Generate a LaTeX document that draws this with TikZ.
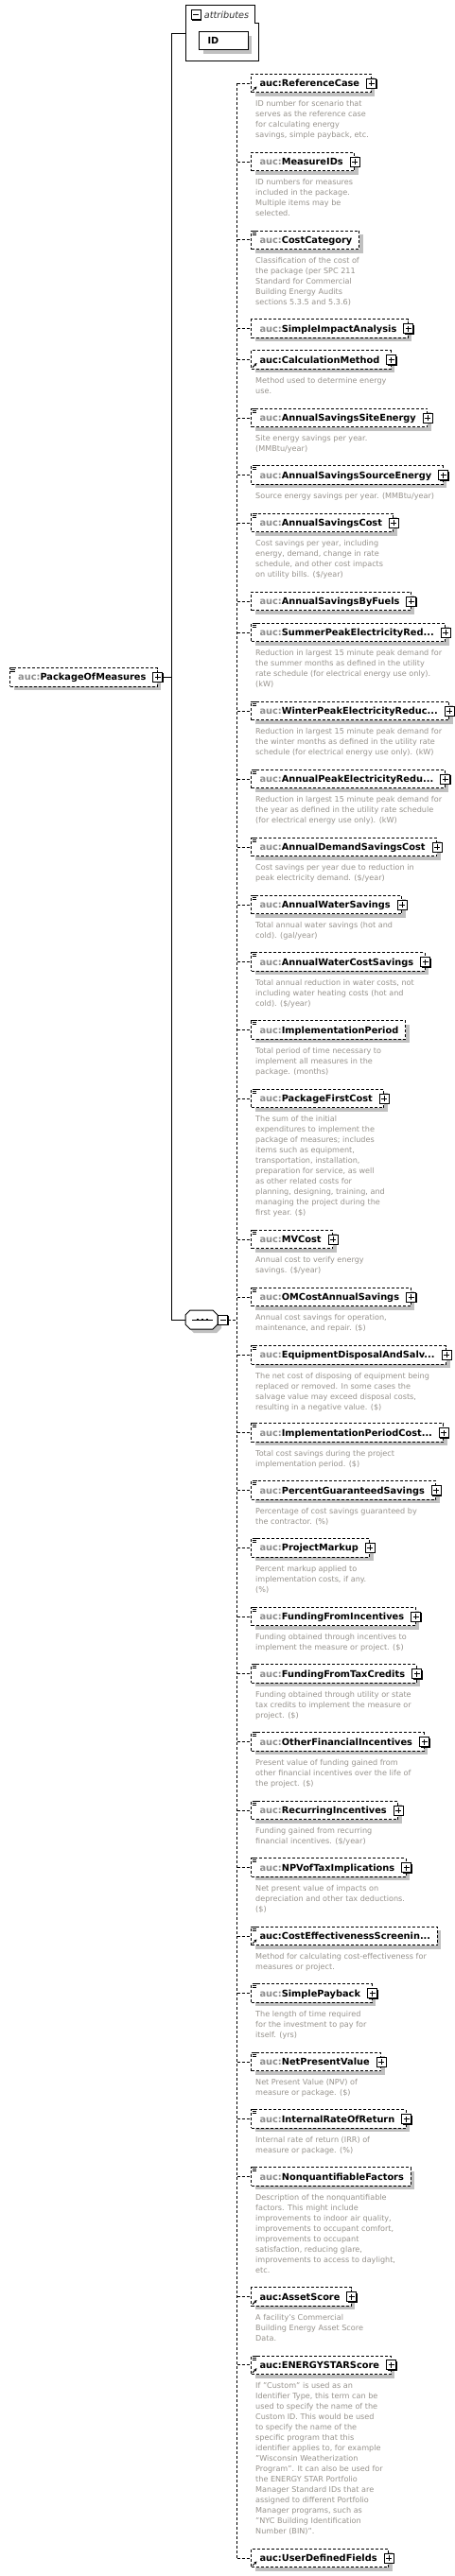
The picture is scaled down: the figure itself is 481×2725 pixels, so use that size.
\documentclass[tikz,border=0pt]{standalone}
\usepackage{fontspec}
\setmainfont{DejaVu Sans}
\usetikzlibrary{shadows,arrows.meta}
\definecolor{shadowgray}{RGB}{192,192,192}
\definecolor{pfxgray}{RGB}{140,140,140}
\definecolor{descgray}{RGB}{150,146,140}
\tikzset{
  elbox/.style={draw, dash pattern=on 3pt off 2pt, line width=1pt, fill=white,
    inner xsep=0pt, inner ysep=0pt, minimum height=19.6pt, text height=7.2pt, text depth=0pt,
    font=\fontsize{9.8}{11}\selectfont\bfseries,
    drop shadow={shadow xshift=4pt, shadow yshift=-4pt, fill=shadowgray, opacity=1}},
  solidbox/.style={draw, line width=1pt, fill=white, inner xsep=0pt, inner ysep=0pt,
    minimum height=19pt, text height=7.2pt, text depth=0pt,
    font=\fontsize{9.8}{11}\selectfont\bfseries,
    drop shadow={shadow xshift=4pt, shadow yshift=-4pt, fill=shadowgray, opacity=1}},
  plusbox/.style={draw, line width=1pt, fill=white, minimum size=10pt, inner sep=0pt,
    drop shadow={shadow xshift=1pt, shadow yshift=-1pt, fill=black, opacity=1}},
  dline/.style={line width=1pt, dash pattern=on 3pt off 2pt},
  sline/.style={line width=1pt},
  desc/.style={font=\fontsize{8.1}{11}\selectfont, text=descgray, align=left, inner sep=0pt},
}
\newcommand{\XE}[6]{%
  \node[elbox, anchor=north west] (#1) at (265.3,#2) {\hspace*{8.7pt}\textcolor{#3}{auc:}#4\hspace*{\ifnum#5=1 12pt\else 7.3pt\fi}};
  \draw[dline] (#1.west -| vx) -- (#1.west);
  \ifnum#5=1
    \node[plusbox] (#1p) at (#1.east) {};
    \draw[line width=1pt] ([xshift=-3pt]#1p.center) -- ([xshift=3pt]#1p.center) ([yshift=-3pt]#1p.center) -- ([yshift=3pt]#1p.center);
  \fi
  \ifodd#6
    \draw[line width=0.9pt] (266.5,#2+0.5) -- ++(5.5,0) (266.5,#2+2.5) -- ++(4.5,0) (266.5,#2+4.5) -- ++(4.5,0);
  \fi
  \ifnum#6>1
    \draw[line width=1pt,-{Stealth[length=3pt,width=3.2pt]}] (267,#2+18.3) -- (271.5,#2+13.8);
  \fi
}
\newcommand{\XD}[3]{\node[desc, anchor=north west] (#1d) at (270,#2+28.7) {\rule{0pt}{6.3pt}#3};}
\begin{document}
\begin{tikzpicture}[x=1pt,y=-1pt]
\useasboundingbox (0,0) rectangle (481,2725);
\coordinate (vx) at (250.7,0);
\coordinate (rx) at (181.7,0);
% attributes group
\draw[line width=1pt, fill=white] (196.3,5.7) -- (269,5.7) -- (269,24) -- (273.3,24) -- (273.3,64) -- (196.3,64) -- cycle;
\coordinate (attr) at (196.3,35);
\node[plusbox] (attrm) at (207,15.5) {};
\draw[line width=1pt] ([xshift=-3pt]attrm.center) -- ([xshift=3pt]attrm.center);
\node[anchor=base west, inner sep=0pt, font=\fontsize{9.7}{11}\selectfont\itshape, text=black!80] (attrlbl) at (215.7,19) {attributes};
\node[solidbox, anchor=north west] (idnode) at (210.3,33.3) {\hspace*{8.7pt}\makebox[42.7pt][l]{ID}};
% root
\node[elbox, anchor=north west] (root) at (10,706) {\hspace*{8.7pt}\textcolor{pfxgray}{auc:}PackageOfMeasures\hspace*{12pt}};
\node[plusbox] (rootp) at (root.east) {};
\draw[line width=1pt] ([xshift=-3pt]rootp.center) -- ([xshift=3pt]rootp.center) ([yshift=-3pt]rootp.center) -- ([yshift=3pt]rootp.center);
\draw[line width=0.9pt] (11.2,706.5) -- ++(5.5,0) (11.2,708.5) -- ++(4.5,0) (11.2,710.5) -- ++(4.5,0);
% sequence
\fill[shadowgray] (205,1390) -- (229,1390) -- (234,1395) -- (234,1405) -- (229,1410) -- (205,1410) -- (200,1405) -- (200,1395) -- cycle;
\draw[line width=1pt, fill=white] (201,1386) -- (225,1386) -- (230,1391) -- (230,1401) -- (225,1406) -- (201,1406) -- (196,1401) -- (196,1391) -- cycle;
\coordinate (seqL) at (196,1396);
\draw[line width=1pt] (203,1396) -- (225,1396);
\foreach \dx in {209,214,219} \fill (\dx-1.4,1394.6) rectangle (\dx+1.4,1397.4);
\node[plusbox] (seqm) at (235.5,1396.3) {};
\draw[line width=1pt] ([xshift=-3pt]seqm.center) -- ([xshift=3pt]seqm.center);
% root connectors
\draw[sline] (rootp.east) -- (rootp.east -| rx);
\draw[sline] (attr) -- (attr -| rx) -- (seqL -| rx) -- (seqL);
\draw[dline] (seqm.east) -- (seqm.east -| vx);
% elements
\XE{e1}{77.7}{black}{ReferenceCase}{1}{2}
\XD{e1}{77.7}{ID number for scenario that\\serves as the reference case\\for calculating energy\\savings, simple payback, etc.}
\XE{e2}{160.7}{pfxgray}{MeasureIDs}{1}{0}
\XD{e2}{160.7}{ID numbers for measures\\included in the package.\\Multiple items may be\\selected.}
\XE{e3}{243.5}{pfxgray}{CostCategory}{0}{1}
\XD{e3}{243.5}{Classification of the cost of\\the package (per SPC 211\\Standard for Commercial\\Building Energy Audits\\sections 5.3.5 and 5.3.6)}
\XE{e4}{337.3}{pfxgray}{SimpleImpactAnalysis}{1}{0}
\XE{e5}{370.3}{black}{CalculationMethod}{1}{2}
\XD{e5}{370.3}{Method used to determine energy\\use.}
\XE{e6}{431.7}{pfxgray}{AnnualSavingsSiteEnergy}{1}{1}
\XD{e6}{431.7}{Site energy savings per year.\\(MMBtu/year)}
\XE{e7}{492.3}{pfxgray}{AnnualSavingsSourceEnergy}{1}{1}
\XD{e7}{492.3}{Source energy savings per year. (MMBtu/year)}
\XE{e8}{542.7}{pfxgray}{AnnualSavingsCost}{1}{1}
\XD{e8}{542.7}{Cost savings per year, including\\energy, demand, change in rate\\schedule, and other cost impacts\\on utility bills. (\$/year)}
\XE{e9}{625.7}{pfxgray}{AnnualSavingsByFuels}{1}{0}
\XE{e10}{658.7}{pfxgray}{SummerPeakElectricityRed...}{1}{1}
\XD{e10}{658.7}{Reduction in largest 15 minute peak demand for\\the summer months as defined in the utility\\rate schedule (for electrical energy use only).\\(kW)}
\XE{e11}{741.7}{pfxgray}{WinterPeakElectricityReduc...}{1}{1}
\XD{e11}{741.7}{Reduction in largest 15 minute peak demand for\\the winter months as defined in the utility rate\\schedule (for electrical energy use only). (kW)}
\XE{e12}{813.7}{pfxgray}{AnnualPeakElectricityRedu...}{1}{1}
\XD{e12}{813.7}{Reduction in largest 15 minute peak demand for\\the year as defined in the utility rate schedule\\(for electrical energy use only). (kW)}
\XE{e13}{885.7}{pfxgray}{AnnualDemandSavingsCost}{1}{1}
\XD{e13}{885.7}{Cost savings per year due to reduction in\\peak electricity demand. (\$/year)}
\XE{e14}{946.7}{pfxgray}{AnnualWaterSavings}{1}{1}
\XD{e14}{946.7}{Total annual water savings (hot and\\cold). (gal/year)}
\XE{e15}{1007.3}{pfxgray}{AnnualWaterCostSavings}{1}{1}
\XD{e15}{1007.3}{Total annual reduction in water costs, not\\including water heating costs (hot and\\cold). (\$/year)}
\XE{e16}{1079.3}{pfxgray}{ImplementationPeriod}{0}{1}
\XD{e16}{1079.3}{Total period of time necessary to\\implement all measures in the\\package. (months)}
\XE{e17}{1151.7}{pfxgray}{PackageFirstCost}{1}{1}
\XD{e17}{1151.7}{The sum of the initial\\expenditures to implement the\\package of measures; includes\\items such as equipment,\\transportation, installation,\\preparation for service, as well\\as other related costs for\\planning, designing, training, and\\managing the project during the\\first year. (\$)}
\XE{e18}{1300.7}{pfxgray}{MVCost}{1}{1}
\XD{e18}{1300.7}{Annual cost to verify energy\\savings. (\$/year)}
\XE{e19}{1361.7}{pfxgray}{OMCostAnnualSavings}{1}{1}
\XD{e19}{1361.7}{Annual cost savings for operation,\\maintenance, and repair. (\$)}
\XE{e20}{1423}{pfxgray}{EquipmentDisposalAndSalv...}{1}{1}
\XD{e20}{1423}{The net cost of disposing of equipment being\\replaced or removed. In some cases the\\salvage value may exceed disposal costs,\\resulting in a negative value. (\$)}
\XE{e21}{1505.3}{pfxgray}{ImplementationPeriodCost...}{1}{1}
\XD{e21}{1505.3}{Total cost savings during the project\\implementation period. (\$)}
\XE{e22}{1566.3}{pfxgray}{PercentGuaranteedSavings}{1}{1}
\XD{e22}{1566.3}{Percentage of cost savings guaranteed by\\the contractor. (\%)}
\XE{e23}{1627}{pfxgray}{ProjectMarkup}{1}{1}
\XD{e23}{1627}{Percent markup applied to\\implementation costs, if any.\\(\%)}
\XE{e24}{1699.7}{pfxgray}{FundingFromIncentives}{1}{1}
\XD{e24}{1699.7}{Funding obtained through incentives to\\implement the measure or project. (\$)}
\XE{e25}{1760.3}{pfxgray}{FundingFromTaxCredits}{1}{1}
\XD{e25}{1760.3}{Funding obtained through utility or state\\tax credits to implement the measure or\\project. (\$)}
\XE{e26}{1832.3}{pfxgray}{OtherFinancialIncentives}{1}{1}
\XD{e26}{1832.3}{Present value of funding gained from\\other financial incentives over the life of\\the project. (\$)}
\XE{e27}{1904.7}{pfxgray}{RecurringIncentives}{1}{1}
\XD{e27}{1904.7}{Funding gained from recurring\\financial incentives. (\$/year)}
\XE{e28}{1965.3}{pfxgray}{NPVofTaxImplications}{1}{1}
\XD{e28}{1965.3}{Net present value of impacts on\\depreciation and other tax deductions.\\(\$)}
\XE{e29}{2037.7}{black}{CostEffectivenessScreenin...}{0}{3}
\XD{e29}{2037.7}{Method for calculating cost-effectiveness for\\measures or project.}
\XE{e30}{2098.3}{pfxgray}{SimplePayback}{1}{1}
\XD{e30}{2098.3}{The length of time required\\for the investment to pay for\\itself. (yrs)}
\XE{e31}{2170.7}{pfxgray}{NetPresentValue}{1}{1}
\XD{e31}{2170.7}{Net Present Value (NPV) of\\measure or package. (\$)}
\XE{e32}{2231.3}{pfxgray}{InternalRateOfReturn}{1}{1}
\XD{e32}{2231.3}{Internal rate of return (IRR) of\\measure or package. (\%)}
\XE{e33}{2292.3}{pfxgray}{NonquantifiableFactors}{0}{1}
\XD{e33}{2292.3}{Description of the nonquantifiable\\factors. This might include\\improvements to indoor air quality,\\improvements to occupant comfort,\\improvements to occupant\\satisfaction, reducing glare,\\improvements to access to daylight,\\etc.}
\XE{e34}{2419.3}{black}{AssetScore}{1}{2}
\XD{e34}{2419.3}{A facility's Commercial\\Building Energy Asset Score\\Data.}
\XE{e35}{2491.5}{black}{ENERGYSTARScore}{1}{3}
\XD{e35}{2491.5}{If "Custom" is used as an\\Identifier Type, this term can be\\used to specify the name of the\\Custom ID. This would be used\\to specify the name of the\\specific program that this\\identifier applies to, for example\\"Wisconsin Weatherization\\Program". It can also be used for\\the ENERGY STAR Portfolio\\Manager Standard IDs that are\\assigned to different Portfolio\\Manager programs, such as\\"NYC Building Identification\\Number (BIN)".}
\XE{e36}{2695.7}{black}{UserDefinedFields}{1}{2}
\draw[dline] (e1.west -| vx) -- (e36.west -| vx);
\end{tikzpicture}
\end{document}
